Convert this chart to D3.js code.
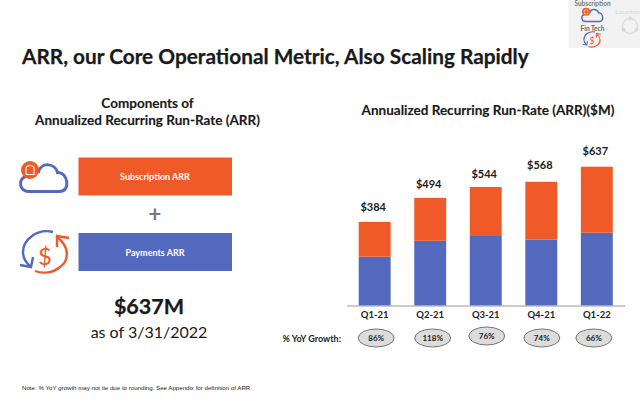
<!DOCTYPE html>
<html><head><meta charset="utf-8">
<script src="https://cdn.jsdelivr.net/npm/d3@7/dist/d3.min.js"></script>
<style>html,body{margin:0;padding:0;background:#fff}svg{display:block}text{font-family:Lato,sans-serif}</style>
</head><body><svg id="c" width="640" height="400"></svg>
<script>
const categories = ["Q1-21","Q2-21","Q3-21","Q4-21","Q1-22"];
const payments = [224,297,319,302,334];
const subscription = [160,197,225,266,303];
const totalLabels = ["$384","$494","$544","$568","$637"];
const growth = ["86%","118%","76%","74%","66%"];

const ORANGE="#f05a28", BLUE="#5369bd", INK="#1a1a1a";
const svg=d3.select("#c");
const T=(x,y,s,size,weight,anchor="middle",fill=INK,parent=svg)=>parent.append("text").attr("x",x).attr("y",y).attr("font-size",size).attr("font-weight",weight).attr("text-anchor",anchor).attr("fill",fill).text(s);

// top-right navigation thumbnail
svg.append("rect").attr("x",568.5).attr("y",0).attr("width",71.5).attr("height",48).attr("fill","#f2f2f2");
T(592.5,5.5,"Subscription",6.5,700,"middle","#777");
T(592.5,30.5,"Fin Tech",6.5,700,"middle","#666");
T(639.5,14,"Location",6.3,700,"end","#ddd");
const cloud=(g)=>{g.append("path").attr("d","M-19 11C-28 11-30-1-22-4C-21-10-14-12-9-9C-6-19 8-17 10-8C20-9 24 11 12 11Z").attr("fill","none").attr("stroke",BLUE);
 g.append("circle").attr("cx",-17.5).attr("cy",-10.5).attr("r",9).attr("fill",ORANGE);
 g.append("path").attr("d","M-21.5-6V-12Q-21.5-15-17.5-15Q-13.5-15-13.5-12V-6Z").attr("fill","none").attr("stroke","#fff").attr("stroke-width",1.1);};
const money=(g,sw)=>{g.append("path").attr("d","M8-20C-8-24-22-12-22 0C-22 5-19 11-14 15").attr("fill","none").attr("stroke",BLUE).attr("stroke-width",sw);
 g.append("path").attr("d","M-25 13L-14 15L-12 5").attr("fill","none").attr("stroke",BLUE).attr("stroke-width",sw);
 g.append("path").attr("d","M12-15C24-6 25 8 15 15C8 21-2 22-10 19").attr("fill","none").attr("stroke",ORANGE).attr("stroke-width",sw);
 g.append("path").attr("d","M24-14L12-16L12-5").attr("fill","none").attr("stroke",ORANGE).attr("stroke-width",sw);
 T(0,13,"$",24,400,"middle",ORANGE,g);};
const c1=svg.append("g").attr("transform","translate(594,16.5) scale(.45)").attr("stroke-width",3);cloud(c1);
const m1=svg.append("g").attr("transform","translate(592,39.4) scale(.37)");money(m1,3);
const loc=svg.append("g").attr("transform","translate(630,26)");
loc.append("circle").attr("r",7.5).attr("fill","none").attr("stroke","#ddd").attr("stroke-width",1.5);
loc.selectAll("circle.d").data([[0,-7.5],[-6.5,3.7],[6.5,3.7]]).join("circle").attr("class","d").attr("cx",d=>d[0]).attr("cy",d=>d[1]).attr("r",2).attr("fill","#d8d8d8");

// title
T(22,64,"ARR, our Core Operational Metric, Also Scaling Rapidly",20.8,700,"start").attr("stroke",INK).attr("stroke-width",.25);

// left panel
T(147.5,108,"Components of",13.5,700).attr("stroke",INK).attr("stroke-width",.15);
T(147.5,124.5,"Annualized Recurring Run-Rate (ARR)",13.5,700).attr("stroke",INK).attr("stroke-width",.15);
svg.append("rect").attr("x",78.5).attr("y",157.5).attr("width",153.5).attr("height",38).attr("fill",ORANGE);
T(155,180,"Subscription ARR",9,700,"middle","#fff");
svg.append("rect").attr("x",78.5).attr("y",233).attr("width",153.5).attr("height",38).attr("fill",BLUE);
T(155,256,"Payments ARR",9,700,"middle","#fff");
T(155,222,"+",22,700,"middle","#777");
const c2=svg.append("g").attr("transform","translate(47.5,180.5)").attr("stroke-width",3);cloud(c2);
const m2=svg.append("g").attr("transform","translate(45,252)");money(m2,2.4);
T(149,314,"$637M",21.5,700).attr("stroke",INK).attr("stroke-width",.25);
T(149,338,"as of 3/31/2022",16,400);
T(22,390,"Note: % YoY growth may not tie due to rounding. See Appendix for definition of ARR.",6.15,400,"start","#222").style("font-family","Liberation Sans");

// chart
T(488,115,"Annualized Recurring Run-Rate (ARR)($M)",13.5,700).attr("stroke",INK).attr("stroke-width",.15);
const x=d3.scaleBand().domain(categories).range([346.5,625]).paddingInner(.425).paddingOuter(.22);
const y=d3.scaleLinear().domain([0,700]).range([305.5,153]);
const stack=d3.stack().keys(["payments","subscription"])(categories.map((c,i)=>({c,payments:payments[i],subscription:subscription[i]})));
svg.selectAll(".s").data(stack).join("g").attr("class","s").attr("fill",(d,i)=>[BLUE,ORANGE][i])
 .selectAll("rect").data(d=>d).join("rect")
 .attr("x",d=>x(d.data.c)).attr("width",x.bandwidth()).attr("y",d=>y(d[1])).attr("height",d=>y(d[0])-y(d[1]));
const labelGap=[10.5,10,8.5,13,11.5];
svg.selectAll(".tot").data(categories).join("text").attr("class","tot")
 .attr("x",c=>x(c)+x.bandwidth()/2-1.5).attr("y",(c,i)=>y(payments[i]+subscription[i])-labelGap[i])
 .attr("text-anchor","middle").attr("font-size",11).attr("font-weight",700).attr("fill",INK).text((c,i)=>totalLabels[i]);
const ax=svg.append("g").attr("transform","translate(0,305.5)").call(d3.axisBottom(x).tickSize(0).tickPadding(6));
ax.select(".domain").attr("stroke","#999").attr("stroke-width",1.2);
ax.selectAll("text").attr("font-size",9.5).attr("font-weight",700).attr("fill","#222").style("font-family","Lato,sans-serif");

// growth row
T(341,342,"% YoY Growth:",9,700,"end","#222");
const gdx=[1.5,2.5,1,.5,-3], gy=[338,338,336,338,338];
const gg=svg.selectAll(".g").data(categories).join("g").attr("class","g")
 .attr("transform",(c,i)=>`translate(${x(c)+x.bandwidth()/2+gdx[i]},${gy[i]})`);
gg.append("ellipse").attr("rx",18).attr("ry",9).attr("fill","#dcdcdc").attr("stroke","#555").attr("stroke-width",.8);
gg.append("text").attr("y",3).attr("text-anchor","middle").attr("font-size",8).attr("font-weight",700).attr("fill","#222").text((c,i)=>growth[i]);
</script></body></html>
